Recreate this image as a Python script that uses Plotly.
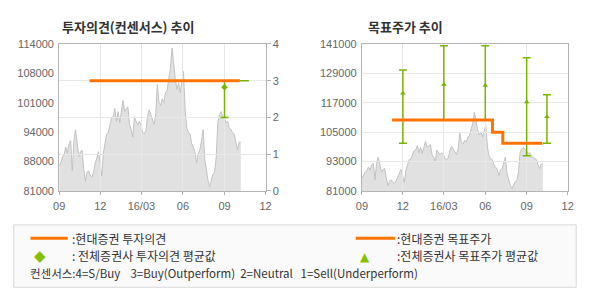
import plotly.graph_objects as go
import pandas as pd

# ---------------- data ----------------
price = [86600, 87300, 88700, 89100, 90900, 89500, 91600, 92300, 85500, 92300,
         94800, 91600, 88700, 89800, 90200, 85900, 83200, 85200, 85500, 84400,
         84100, 85200, 87300, 88400, 89800, 87300, 84400, 89500, 91600, 93800,
         94100, 95900, 97400, 97700, 99500, 96600, 98800, 96300, 98800, 101300,
         98800, 99500, 99900, 95900, 94800, 93100, 97700, 96600, 95900, 96600,
         95900, 94100, 93800, 94500, 97700, 99200, 98100, 96600, 95900, 98100,
         104900, 100900, 100200, 101700, 100900, 103100, 103500, 106300, 108500, 113100,
         109000, 106000, 103800, 105200, 103100, 105200, 107800, 99000, 95200, 94100,
         93800, 91600, 90900, 89800, 87300, 89500, 90200, 92300, 94800, 88000,
         85200, 83400, 81900, 83700, 84800, 85200, 88700, 96600, 98100, 98800,
         97700, 97400, 96300, 96600, 95200, 94800, 94100, 93800, 91600, 90200,
         92000, 92000]
price_start, price_end = "2015-09-01", "2016-10-07"
price_dates = pd.date_range(price_start, price_end, periods=len(price))

x_range = ["2015-09-01", "2016-12-01"]
x_tickvals = ["2015-09-01", "2015-12-01", "2016-03-01", "2016-06-01", "2016-09-01", "2016-12-01"]
x_ticktext = ["09", "12", "16/03", "06", "09", "12"]

left_price_range = [81000, 114000]
left_price_ticks = [81000, 87600, 94200, 100800, 107400, 114000]
left_price_labels = ["81000", "88000", "94000", "101000", "108000", "114000"]
opinion_range = [0, 4]

op_line_dates = ["2015-11-07", "2016-10-05"]
op_line_vals = [3, 3]
op_tail_dates = ["2016-10-05", "2016-10-25"]
op_tail_vals = [3, 3]
op_avg_dates = ["2016-09-01"]
op_avg = [2.82]
op_high = [3]
op_low = [2]

right_price_range = [81000, 141000]
right_price_ticks = [81000, 93000, 105000, 117000, 129000, 141000]

tp_line_dates = ["2015-11-07", "2016-06-17", "2016-07-10", "2016-10-06"]
tp_line_vals = [110000, 105000, 100500, 100500]
tp_avg_dates = ["2015-12-01", "2016-03-01", "2016-06-01", "2016-09-01", "2016-10-16"]
tp_avg = [120900, 124400, 124000, 117300, 111300]
tp_high = [130400, 140300, 140300, 135400, 120300]
tp_low = [100500, 110000, 110000, 95400, 100500]

# ---------------- style ----------------
ORANGE = "#ff7300"
GREEN = "#76b500"
FILL = "#e1e1e1"
PLINE = "#c2c2c2"
FRAME = "#b4b4b4"
GRID = "#e8e8e8"
TICKFONT = dict(family="Liberation Sans, Arial, sans-serif", size=11, color="#666666")
KFONT = "Noto Sans CJK KR, sans-serif"

W, H = 590, 300
def px(x):
    return x / W
def py(y):
    return 1 - y / H

L_DOM = [px(54.3), px(265)]
R_DOM = [px(363.3), px(573.3)]
Y_DOM = [py(192.7), py(39.5)]

fig = go.Figure()

# price areas (drawn first, under the grid subplots)
fig.add_trace(go.Scatter(x=price_dates, y=price, mode="lines", fill="tozeroy",
                         fillcolor=FILL, line=dict(color=PLINE, width=1),
                         xaxis="x", yaxis="y", hoverinfo="skip", showlegend=False))
fig.add_trace(go.Scatter(x=price_dates, y=price, mode="lines", fill="tozeroy",
                         fillcolor=FILL, line=dict(color=PLINE, width=1),
                         xaxis="x2", yaxis="y2", hoverinfo="skip", showlegend=False))

# left: opinion
fig.add_trace(go.Scatter(x=op_avg_dates, y=op_avg, mode="markers",
                         marker=dict(symbol="diamond", size=5, color=GREEN),
                         error_y=dict(type="data", symmetric=False,
                                      array=[h - m for h, m in zip(op_high, op_avg)],
                                      arrayminus=[m - l for m, l in zip(op_avg, op_low)],
                                      color=GREEN, thickness=1.5, width=4),
                         xaxis="x3", yaxis="y3", showlegend=False))
fig.add_trace(go.Scatter(x=op_tail_dates, y=op_tail_vals, mode="lines",
                         line=dict(color=GREEN, width=1.5),
                         xaxis="x3", yaxis="y3", showlegend=False))
fig.add_trace(go.Scatter(x=op_line_dates, y=op_line_vals, mode="lines",
                         line=dict(color=ORANGE, width=3),
                         xaxis="x3", yaxis="y3", showlegend=False))

# right: target price
fig.add_trace(go.Scatter(x=tp_avg_dates, y=tp_avg, mode="markers",
                         marker=dict(symbol="triangle-up", size=5, color=GREEN),
                         error_y=dict(type="data", symmetric=False,
                                      array=[h - m for h, m in zip(tp_high, tp_avg)],
                                      arrayminus=[m - l for m, l in zip(tp_avg, tp_low)],
                                      color=GREEN, thickness=1.5, width=4),
                         xaxis="x4", yaxis="y4", showlegend=False))
fig.add_trace(go.Scatter(x=tp_line_dates, y=tp_line_vals, mode="lines",
                         line=dict(color=ORANGE, width=3, shape="hv"),
                         xaxis="x4", yaxis="y4", showlegend=False))

xcommon = dict(type="date", range=x_range, tickvals=x_tickvals, ticktext=x_ticktext,
               linecolor=FRAME, linewidth=1, zeroline=False, fixedrange=True)

fig.update_layout(
    width=W, height=H, autosize=False,
    margin=dict(l=0, r=0, t=0, b=0),
    paper_bgcolor="white", plot_bgcolor="rgba(0,0,0,0)",
    showlegend=False,
    xaxis=dict(**xcommon, domain=L_DOM, anchor="y", showgrid=False, showline=True,
               ticks="outside", ticklen=3, tickcolor=FRAME, tickfont=TICKFONT,
               ticklabelstandoff=2),
    yaxis=dict(domain=Y_DOM, range=left_price_range, anchor="x", tickvals=left_price_ticks,
               ticktext=left_price_labels, showgrid=False, showline=True, linecolor=FRAME,
               zeroline=False, tickfont=TICKFONT, ticks="", ticklabelstandoff=2),
    xaxis3=dict(**xcommon, domain=L_DOM, anchor="y3", showgrid=True, gridcolor=GRID,
                showline=True, mirror=True, showticklabels=False, ticks=""),
    yaxis3=dict(domain=Y_DOM, range=opinion_range, anchor="x3", side="right", dtick=1,
                showgrid=True, gridcolor=GRID, showline=True, mirror=True, linecolor=FRAME,
                zeroline=False, tickfont=TICKFONT, ticks="outside", ticklen=4,
                tickcolor=FRAME),
    xaxis2=dict(**xcommon, domain=R_DOM, anchor="y2", showgrid=False, showline=True,
                ticks="outside", ticklen=3, tickcolor=FRAME, tickfont=TICKFONT,
                ticklabelstandoff=2),
    yaxis2=dict(domain=Y_DOM, range=right_price_range, anchor="x2", tickvals=right_price_ticks,
                showgrid=False, showline=True, linecolor=FRAME, zeroline=False,
                tickfont=TICKFONT, ticks="", ticklabelstandoff=2, tickformat="d"),
    xaxis4=dict(**xcommon, domain=R_DOM, anchor="y4", showgrid=True, gridcolor=GRID,
                showline=True, mirror=True, showticklabels=False, ticks=""),
    yaxis4=dict(domain=Y_DOM, range=right_price_range, anchor="x4", tickvals=right_price_ticks,
                showgrid=True, gridcolor=GRID, showline=True, mirror=True, linecolor=FRAME,
                zeroline=False, showticklabels=False, ticks=""),
)

# titles
for txt, x in [("투자의견(컨센서스) 추이", 55), ("목표주가 추이", 367)]:
    fig.add_annotation(text="<b>" + txt + "</b>", x=px(x), y=py(21), xref="paper", yref="paper",
                       xanchor="left", yanchor="middle", showarrow=False,
                       font=dict(family=KFONT, size=13, color="#333333"))

# legend box
fig.add_shape(type="rect", xref="paper", yref="paper", x0=px(8), x1=px(582), y0=py(293), y1=py(228),
              line=dict(color="#d8d8d8", width=1), fillcolor="#fafafa", layer="below")
for x0, x1 in [(25, 63), (357, 397)]:
    fig.add_shape(type="line", xref="paper", yref="paper", x0=px(x0), x1=px(x1), y0=py(242), y1=py(242),
                  line=dict(color=ORANGE, width=3))

LFONT = dict(family=KFONT, size=12, color="#333333")
legend_items = [
    (":현대증권 투자의견", 66, 242),
    (":현대증권 목표주가", 398, 242),
    (":\u00a0전체증권사 투자의견 평균값", 66, 260),
    (":전체증권사 목표주가 평균값", 398, 260),
]
for txt, x, y in legend_items:
    fig.add_annotation(text=txt, x=px(x), y=py(y), xref="paper", yref="paper",
                       xanchor="left", yanchor="middle", showarrow=False, font=LFONT,
                       borderpad=0)
fig.add_annotation(text="◆", x=px(35), y=py(260), xref="paper", yref="paper",
                   xanchor="center", yanchor="middle", showarrow=False, borderpad=0,
                   font=dict(family="DejaVu Sans", size=15, color="#86c000"))
fig.add_annotation(text="▲", x=px(366), y=py(261), xref="paper", yref="paper",
                   xanchor="center", yanchor="middle", showarrow=False, borderpad=0,
                   font=dict(family="DejaVu Sans", size=12, color="#86c000"))
fig.add_annotation(text="컨센서스:4=S/Buy\u00a0\u00a0\u00a0\u00a03=Buy(Outperform)\u00a0\u00a02=Neutral\u00a0\u00a0\u00a01=Sell(Underperform)",
                   x=px(23), y=py(278), xref="paper", yref="paper",
                   xanchor="left", yanchor="middle", showarrow=False, borderpad=0,
                   font=dict(family=KFONT, size=11.5, color="#333333"))

fig.write_html("out.html")
